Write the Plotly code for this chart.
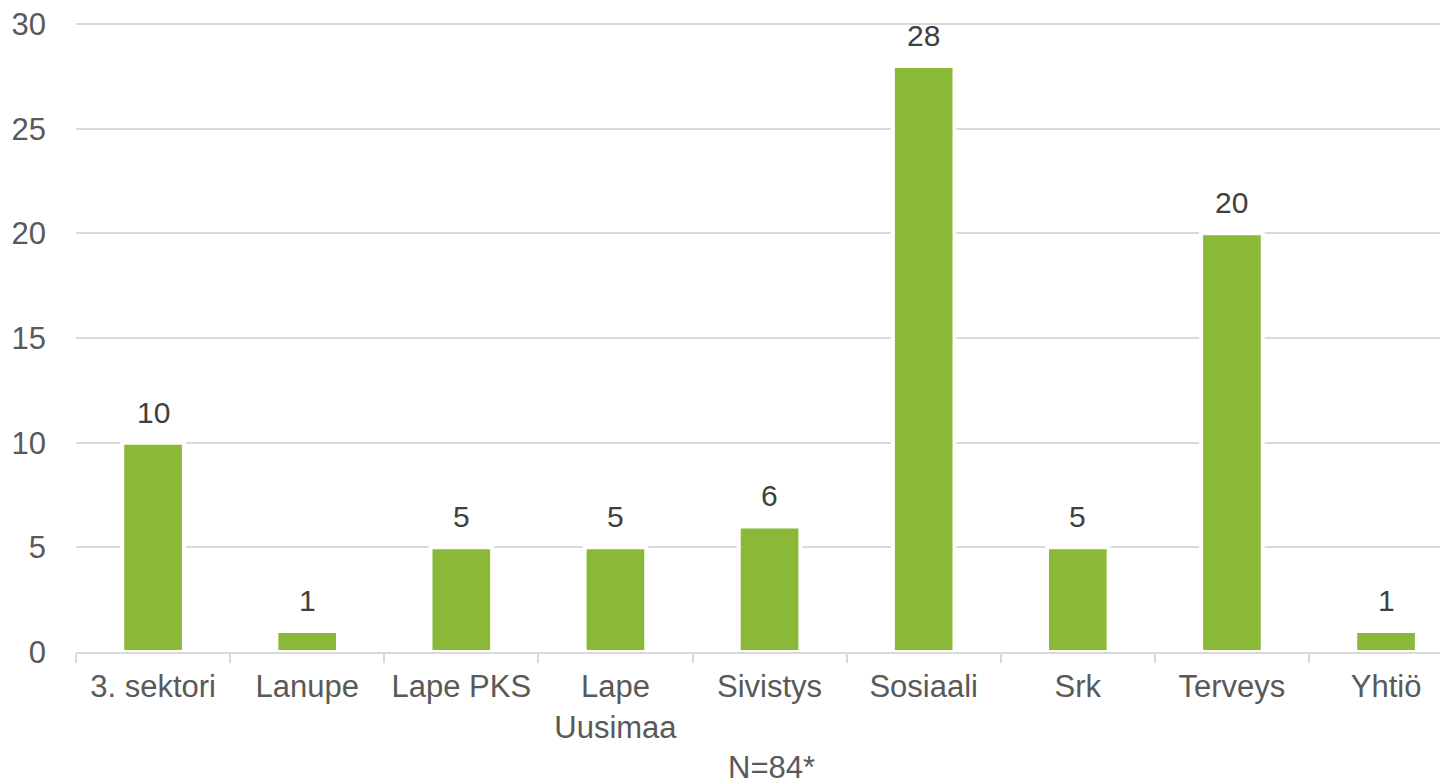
import plotly.graph_objects as go

categories = ["3. sektori", "Lanupe", "Lape PKS", "Lape<br>Uusimaa", "Sivistys",
              "Sosiaali", "Srk", "Terveys", "Yhtiö"]
values = [10, 1, 5, 5, 6, 28, 5, 20, 1]
y_ticks = [0, 5, 10, 15, 20, 25, 30]
note = "N=84*"

fig = go.Figure(go.Bar(
    x=categories, y=values,
    width=0.40,
    marker=dict(color="#8AB837", line=dict(color="white", width=4)),
    hoverinfo="x+y",
))

for c, v in zip(categories, values):
    fig.add_annotation(x=c, y=v, text=str(v), showarrow=False, yanchor="bottom",
                       yshift=12, font=dict(size=30, color="#404040"))

fig.update_layout(
    width=1443, height=776,
    margin=dict(l=68, r=11, t=15, b=132),
    plot_bgcolor="white", paper_bgcolor="white",
    font=dict(family="Liberation Sans, Arial, sans-serif", size=31, color="#595959"),
    showlegend=False,
)
fig.update_xaxes(
    type="category", automargin=False,
    range=[-0.5, 8.35], tickson="boundaries", ticks="outside", ticklen=9,
    tickcolor="#d9d9d9", tickwidth=2, showline=True, linecolor="#d9d9d9", linewidth=2,
    showgrid=False, ticklabelstandoff=6, tickfont=dict(size=31, color="#595959"),
)
fig.update_yaxes(
    range=[0, 30.05], tickvals=y_ticks, showgrid=True, gridcolor="#d9d9d9",
    gridwidth=2, zeroline=False, showline=False, ticks="", ticklabelstandoff=29,
    automargin=False, ticklabeloverflow="allow", tickfont=dict(size=31, color="#595959"),
)
fig.add_annotation(text=note, xref="paper", yref="paper", x=0.51, y=0,
                   yanchor="top", yshift=-96, showarrow=False,
                   font=dict(size=31, color="#595959"))

fig.write_html("out.html")
